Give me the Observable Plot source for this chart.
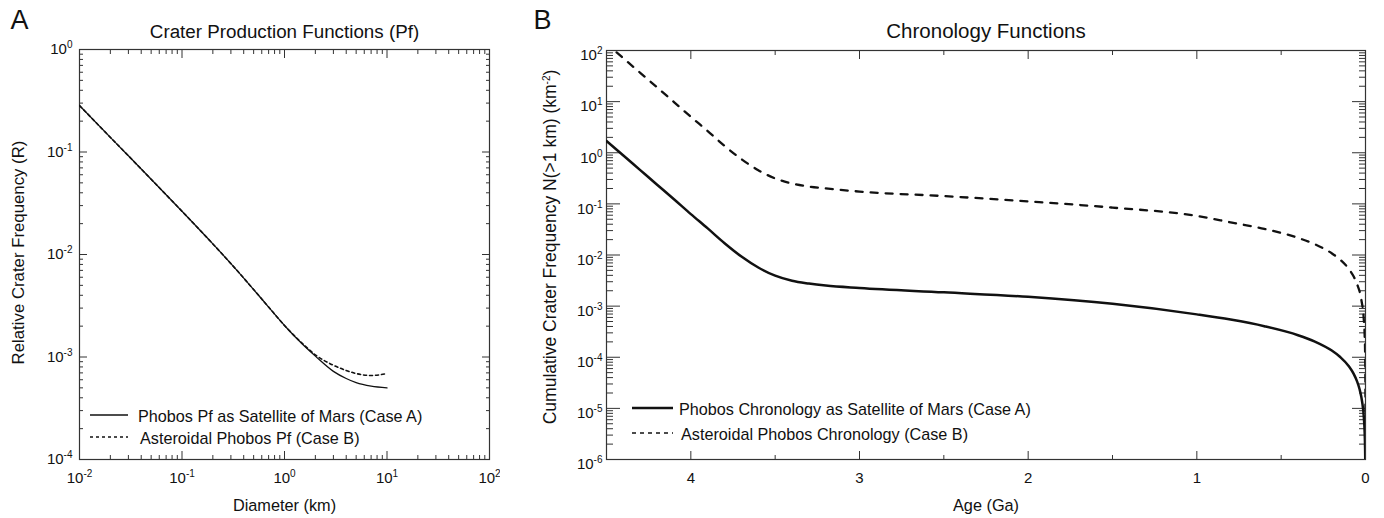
<!DOCTYPE html>
<html><head><meta charset="utf-8">
<script src="https://cdn.jsdelivr.net/npm/d3@7"></script>
<script src="https://cdn.jsdelivr.net/npm/@observablehq/plot@0.6"></script>
<style>
html,body{margin:0;padding:0;background:#fff;}
#wrap{position:relative;width:1384px;height:518px;overflow:hidden;font-family:"Liberation Sans",Arial,Helvetica,sans-serif;}
#panelA{position:absolute;left:0;top:0;}
#panelB{position:absolute;left:500px;top:0;}
#overlay{position:absolute;left:0;top:0;pointer-events:none;}
</style></head>
<body><div id="wrap"><div id="panelA"></div><div id="panelB"></div><svg id="overlay" width="1384" height="518"></svg></div>
<script>
// ---------- Panel A: crater production functions ----------
const pfDiameter = [0.01, 0.02, 0.03, 0.05, 0.1, 0.2, 0.3, 0.5, 0.7, 1, 1.5, 2, 3, 4, 5, 7, 10];
const pfCaseA = [0.284, 0.139, 0.0918, 0.0542, 0.0264, 0.01268, 0.00815, 0.00455, 0.00307, 0.00203, 0.00133, 0.00102, 7.24e-4, 6.17e-4, 5.62e-4, 5.19e-4, 5.0e-4];
const pfCaseB = [0.284, 0.139, 0.0918, 0.0542, 0.0264, 0.01268, 0.00815, 0.00455, 0.00307, 0.00203, 0.00135, 0.00105, 8.3e-4, 7.4e-4, 6.9e-4, 6.6e-4, 6.9e-4];
const pfXTicks = [0.01, 0.1, 1, 10, 100];
const pfXTickLabels = ["10^-2", "10^-1", "10^0", "10^1", "10^2"];
const pfYTicks = [1e-4, 1e-3, 1e-2, 1e-1, 1];
const pfYTickLabels = ["10^-4", "10^-3", "10^-2", "10^-1", "10^0"];

// ---------- Panel B: chronology functions ----------
const chronAgeA = [4.5, 4.4, 4.3, 4.2, 4.1, 4.0, 3.9, 3.8, 3.7, 3.6, 3.5, 3.4, 3.3, 3.2, 3.0, 2.5, 2.0, 1.5, 1.0, 0.8, 0.6, 0.4, 0.3, 0.2, 0.15, 0.1, 0.07, 0.05, 0.035, 0.02, 0.01, 0.005, 0.0025, 0.0015];
const chronCaseA = [1.70, 0.881, 0.457, 0.237, 0.123, 0.0631, 0.0331, 0.0170, 0.00933, 0.00569, 0.00394, 0.00313, 0.00276, 0.00252, 0.00226, 0.00186, 0.00152, 0.00111, 6.9e-4, 5.45e-4, 4.05e-4, 2.7e-4, 2.02e-4, 1.35e-4, 1.01e-4, 6.75e-5, 4.72e-5, 3.37e-5, 2.36e-5, 1.35e-5, 6.75e-6, 3.37e-6, 1.69e-6, 1.0e-6];
const chronAgeB = [4.44, 4.4, 4.3, 4.2, 4.1, 4.0, 3.9, 3.8, 3.7, 3.6, 3.5, 3.4, 3.3, 3.2, 3.0, 2.5, 2.0, 1.5, 1.0, 0.8, 0.6, 0.4, 0.3, 0.2, 0.15, 0.1, 0.07, 0.05, 0.025, 0.01, 0.005, 0.002, 0.001, 0.0001, 0.0000185];
const chronCaseB = [92, 70.5, 36.6, 19.0, 9.8, 5.05, 2.65, 1.36, 0.75, 0.455, 0.315, 0.25, 0.218, 0.201, 0.174, 0.142, 0.112, 0.0845, 0.0582, 0.0436, 0.0324, 0.0216, 0.0162, 0.0108, 0.0081, 0.0054, 0.00378, 0.0027, 0.00135, 5.4e-4, 2.7e-4, 1.08e-4, 5.4e-5, 5.4e-6, 1.0e-6];
const chronXTicks = [4, 3, 2, 1, 0];
const chronXTickLabels = ["4", "3", "2", "1", "0"];
const chronXMinor = [3.5, 2.5, 1.5, 0.5];
const chronYTicks = [1e-6, 1e-5, 1e-4, 1e-3, 1e-2, 1e-1, 1, 10, 100];
const chronYTickLabels = ["10^-6", "10^-5", "10^-4", "10^-3", "10^-2", "10^-1", "10^0", "10^1", "10^2"];

const legendA = ["Phobos Pf as Satellite of Mars (Case A)", "Asteroidal Phobos Pf (Case B)"];
const legendB = ["Phobos Chronology as Satellite of Mars (Case A)", "Asteroidal Phobos Chronology (Case B)"];

const FONT = "Liberation Sans, Arial, Helvetica, sans-serif";
const INK = "#111";
const FRAME = "#333";

const minorLog = decades => decades.slice(0, -1).flatMap(d => [2, 3, 4, 5, 6, 7, 8, 9].map(k => k * d));
const lab = (ticks, labels) => { const m = new Map(ticks.map((t, i) => [t, labels[i]])); return d => m.get(d) ?? ""; };
const blank = () => "";

function inwardTicks(xTicks, xMinor, yTicks, yMinor, xMaj, xMin, yMaj, yMin) {
  const o = {stroke: FRAME, strokeWidth: 1, label: null, tickFormat: blank};
  return [
    Plot.axisX(xTicks, {...o, anchor: "bottom", tickSize: xMaj, dy: -xMaj}),
    Plot.axisX(xTicks, {...o, anchor: "top", tickSize: xMaj, dy: xMaj}),
    Plot.axisX(xMinor, {...o, anchor: "bottom", tickSize: xMin, dy: -xMin}),
    Plot.axisX(xMinor, {...o, anchor: "top", tickSize: xMin, dy: xMin}),
    Plot.axisY(yTicks, {...o, anchor: "left", tickSize: yMaj, dx: yMaj}),
    Plot.axisY(yTicks, {...o, anchor: "right", tickSize: yMaj, dx: -yMaj}),
    Plot.axisY(yMinor, {...o, anchor: "left", tickSize: yMin, dx: yMin}),
    Plot.axisY(yMinor, {...o, anchor: "right", tickSize: yMin, dx: -yMin})
  ];
}

const pfA = pfDiameter.map((d, i) => ({d, r: pfCaseA[i]}));
const pfB = pfDiameter.map((d, i) => ({d, r: pfCaseB[i]}));

const plotA = Plot.plot({
  width: 500, height: 518,
  marginLeft: 79, marginRight: 11, marginTop: 49, marginBottom: 59,
  style: {fontFamily: FONT, fontSize: "15px", color: INK, background: "white", overflow: "visible"},
  x: {type: "log", domain: [0.01, 100]},
  y: {type: "log", domain: [1e-4, 1]},
  marks: [
    ...inwardTicks(pfXTicks, minorLog(pfXTicks), pfYTicks, minorLog(pfYTicks), 8, 4, 8, 4),
    Plot.axisX(pfXTicks, {anchor: "bottom", tickSize: 0, tickPadding: 13, label: null, tickFormat: lab(pfXTicks, pfXTickLabels), fontSize: 15, fill: INK}),
    Plot.axisY(pfYTicks, {anchor: "left", tickSize: 0, tickPadding: 7, label: null, tickFormat: lab(pfYTicks, pfYTickLabels), fontSize: 15, fill: INK}),
    Plot.frame({stroke: FRAME, strokeWidth: 1.2}),
    Plot.line(pfB, {x: "d", y: "r", stroke: INK, strokeWidth: 1.6, strokeDasharray: "3,3", curve: "monotone-x", clip: true}),
    Plot.line(pfA, {x: "d", y: "r", stroke: INK, strokeWidth: 1.3, curve: "monotone-x", clip: true}),
    Plot.text(["Crater Production Functions (Pf)"], {text: d => d, frameAnchor: "top", dy: -12, lineAnchor: "bottom", textAnchor: "middle", fontSize: 18.8, fill: INK}),
    Plot.text(["A"], {text: d => d, frameAnchor: "top-left", dx: -69, dy: -21, textAnchor: "start", lineAnchor: "bottom", fontSize: 27, fill: INK}),
    Plot.text(["Diameter (km)"], {text: d => d, frameAnchor: "bottom", dy: 51, lineAnchor: "bottom", textAnchor: "middle", fontSize: 16.3, fill: INK}),
    Plot.text(["Relative Crater Frequency (R)"], {text: d => d, frameAnchor: "left", dx: -61, dy: -2, rotate: -90, textAnchor: "middle", lineAnchor: "middle", fontSize: 16.8, fill: INK})
  ]
});

const chA = chronAgeA.map((a, i) => ({a, n: chronCaseA[i]}));
const chB = chronAgeB.map((a, i) => ({a, n: chronCaseB[i]}));

const plotB = Plot.plot({
  width: 884, height: 518,
  marginLeft: 106, marginRight: 19, marginTop: 50, marginBottom: 59,
  style: {fontFamily: FONT, fontSize: "15px", color: INK, background: "white", overflow: "visible"},
  x: {type: "linear", domain: [4.5, 0]},
  y: {type: "log", domain: [1e-6, 100]},
  marks: [
    ...inwardTicks(chronXTicks, chronXMinor, chronYTicks, minorLog(chronYTicks), 8, 4, 14, 7),
    Plot.axisX(chronXTicks, {anchor: "bottom", tickSize: 0, tickPadding: 13, label: null, tickFormat: lab(chronXTicks, chronXTickLabels), fontSize: 15, fill: INK}),
    Plot.axisY(chronYTicks, {anchor: "left", tickSize: 0, tickPadding: 4, dy: 5, label: null, tickFormat: lab(chronYTicks, chronYTickLabels), fontSize: 15, fill: INK}),
    Plot.frame({stroke: FRAME, strokeWidth: 1.2}),
    Plot.line(chB, {x: "a", y: "n", stroke: INK, strokeWidth: 2.3, strokeDasharray: "7,8", curve: "monotone-x", clip: true}),
    Plot.line(chA, {x: "a", y: "n", stroke: INK, strokeWidth: 2.5, curve: "monotone-x", clip: true}),
    Plot.text(["Chronology Functions"], {text: d => d, frameAnchor: "top", dy: -13, lineAnchor: "bottom", textAnchor: "middle", fontSize: 20.5, fill: INK}),
    Plot.text(["B"], {text: d => d, frameAnchor: "top-left", dx: -73, dy: -22, textAnchor: "start", lineAnchor: "bottom", fontSize: 27, fill: INK}),
    Plot.text(["Age (Ga)"], {text: d => d, frameAnchor: "bottom", dy: 51, lineAnchor: "bottom", textAnchor: "middle", fontSize: 16.3, fill: INK}),
    Plot.text(["Cumulative Crater Frequency N(>1 km) (km^-2)"], {text: d => d, frameAnchor: "left", dx: -56, dy: -8, rotate: -90, textAnchor: "middle", lineAnchor: "middle", fontSize: 17.5, fill: INK})
  ]
});

function applySuperscripts(root) {
  const NS = "http://www.w3.org/2000/svg";
  root.querySelectorAll("text, tspan").forEach(el => {
    if (el.children.length) return;
    const s = el.textContent;
    if (!s.includes("^")) return;
    const parts = s.split(/\^(-?\d+)/);
    el.textContent = "";
    let raised = false;
    parts.forEach((p, i) => {
      if (i % 2 === 0) {
        if (!p) return;
        const t = document.createElementNS(NS, "tspan");
        if (raised) { t.setAttribute("dy", "6"); raised = false; }
        t.textContent = p;
        el.appendChild(t);
      } else {
        const t = document.createElementNS(NS, "tspan");
        t.setAttribute("dy", "-6");
        t.setAttribute("font-size", "10");
        t.textContent = p;
        el.appendChild(t);
        raised = true;
      }
    });
  });
}

document.getElementById("panelA").appendChild(plotA);
document.getElementById("panelB").appendChild(plotB);
applySuperscripts(plotA);
applySuperscripts(plotB);

// legends
const ov = d3.select("#overlay");
function legend(entries, x0, x1, tx, ys, dashes, widths) {
  entries.forEach((label, i) => {
    ov.append("line").attr("x1", x0).attr("x2", x1).attr("y1", ys[i]).attr("y2", ys[i])
      .attr("stroke", INK).attr("stroke-width", widths[i]).attr("stroke-dasharray", dashes[i]);
    ov.append("text").attr("x", tx[i]).attr("y", ys[i] + 7).attr("font-family", FONT)
      .attr("font-size", 16.2).attr("fill", INK).text(label);
  });
}
legend(legendA, 90, 128, [138, 140], [415, 437], [null, "3,3"], [1.3, 1.6]);
legend(legendB, 632, 673, [679, 681], [408, 433], [null, "4,4"], [2.3, 1.6]);
</script>
</body></html>
